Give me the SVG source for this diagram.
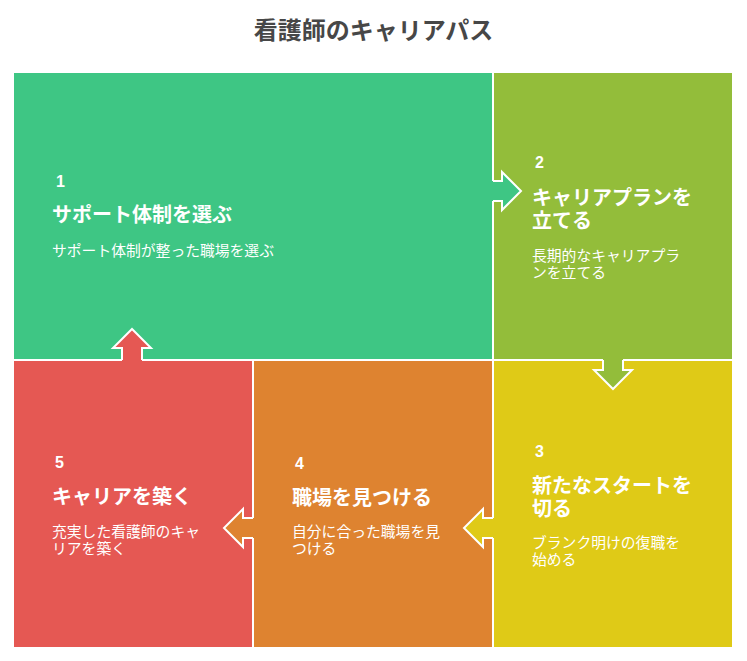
<svg xmlns="http://www.w3.org/2000/svg" width="747" height="661" viewBox="0 0 747 661">
<style>
text{font-family:"Noto Sans CJK JP","Noto Sans",sans-serif;fill:#ffffff}
.ttl{font-size:24px;font-weight:bold;fill:#474747}
.num{font-family:"Liberation Sans","Noto Sans CJK JP",sans-serif;font-size:16px;font-weight:bold}
.hd{font-size:20px;font-weight:bold}
.ds{font-size:14.8px}
.ol{fill:none;stroke:#ffffff;stroke-width:2;stroke-linejoin:miter}
</style>
<rect width="747" height="661" fill="#ffffff"/>
<text class="ttl" x="373.5" y="39" text-anchor="middle">看護師のキャリアパス</text>
<g id="node1">
<rect x="14" y="73" width="478" height="286" fill="#3ec684"/>
<text class="num" x="56" y="187">1</text>
<text class="hd" x="52" y="222">サポート体制を選ぶ</text>
<text class="ds" x="52" y="256">サポート体制が整った職場を選ぶ</text>
</g>
<g id="node2">
<rect x="494" y="73" width="238" height="286" fill="#93bd3a"/>
<text class="num" x="535" y="168">2</text>
<text class="hd" x="532" y="205">キャリアプランを</text>
<text class="hd" x="532" y="228">立てる</text>
<text class="ds" x="532" y="261">長期的なキャリアプラ</text>
<text class="ds" x="532" y="278">ンを立てる</text>
</g>
<g id="node3">
<rect x="494" y="361" width="238" height="286" fill="#dfca17"/>
<text class="num" x="535" y="457">3</text>
<text class="hd" x="532" y="493">新たなスタートを</text>
<text class="hd" x="532" y="516">切る</text>
<text class="ds" x="532" y="548">ブランク明けの復職を</text>
<text class="ds" x="532" y="565">始める</text>
</g>
<g id="node4">
<rect x="254" y="361" width="238" height="286" fill="#de8330"/>
<text class="num" x="295" y="469">4</text>
<text class="hd" x="292" y="505">職場を見つける</text>
<text class="ds" x="292" y="537">自分に合った職場を見</text>
<text class="ds" x="292" y="554">つける</text>
</g>
<g id="node5">
<rect x="14" y="361" width="238" height="286" fill="#e55853"/>
<text class="num" x="55" y="468">5</text>
<text class="hd" x="52" y="504">キャリアを築く</text>
<text class="ds" x="52" y="537">充実した看護師のキャ</text>
<text class="ds" x="52" y="554">リアを築く</text>
</g>
<g id="connectors">
<path d="M491,181 H502 V172 L521,191 L502,210 V201 H491 Z" fill="#3ec684"/>
<path class="ol" d="M493,181 H502 V172 L521,191 L502,210 V201 H493"/>
<path d="M603,358 V370 H594 L613,389 L632,370 H623 V358 Z" fill="#93bd3a"/>
<path class="ol" d="M603,360 V370 H594 L613,389 L632,370 H623 V360"/>
<path d="M495,518 H483 V509 L464,528 L483,547 V538 H495 Z" fill="#dfca17"/>
<path class="ol" d="M493,518 H483 V509 L464,528 L483,547 V538 H493"/>
<path d="M255,518 H243 V509 L224,528 L243,547 V538 H255 Z" fill="#de8330"/>
<path class="ol" d="M253,518 H243 V509 L224,528 L243,547 V538 H253"/>
<path d="M122,362 V348 H113 L132,329 L151,348 H142 V362 Z" fill="#e55853"/>
<path class="ol" d="M122,360 V348 H113 L132,329 L151,348 H142 V360"/>
</g>
</svg>
